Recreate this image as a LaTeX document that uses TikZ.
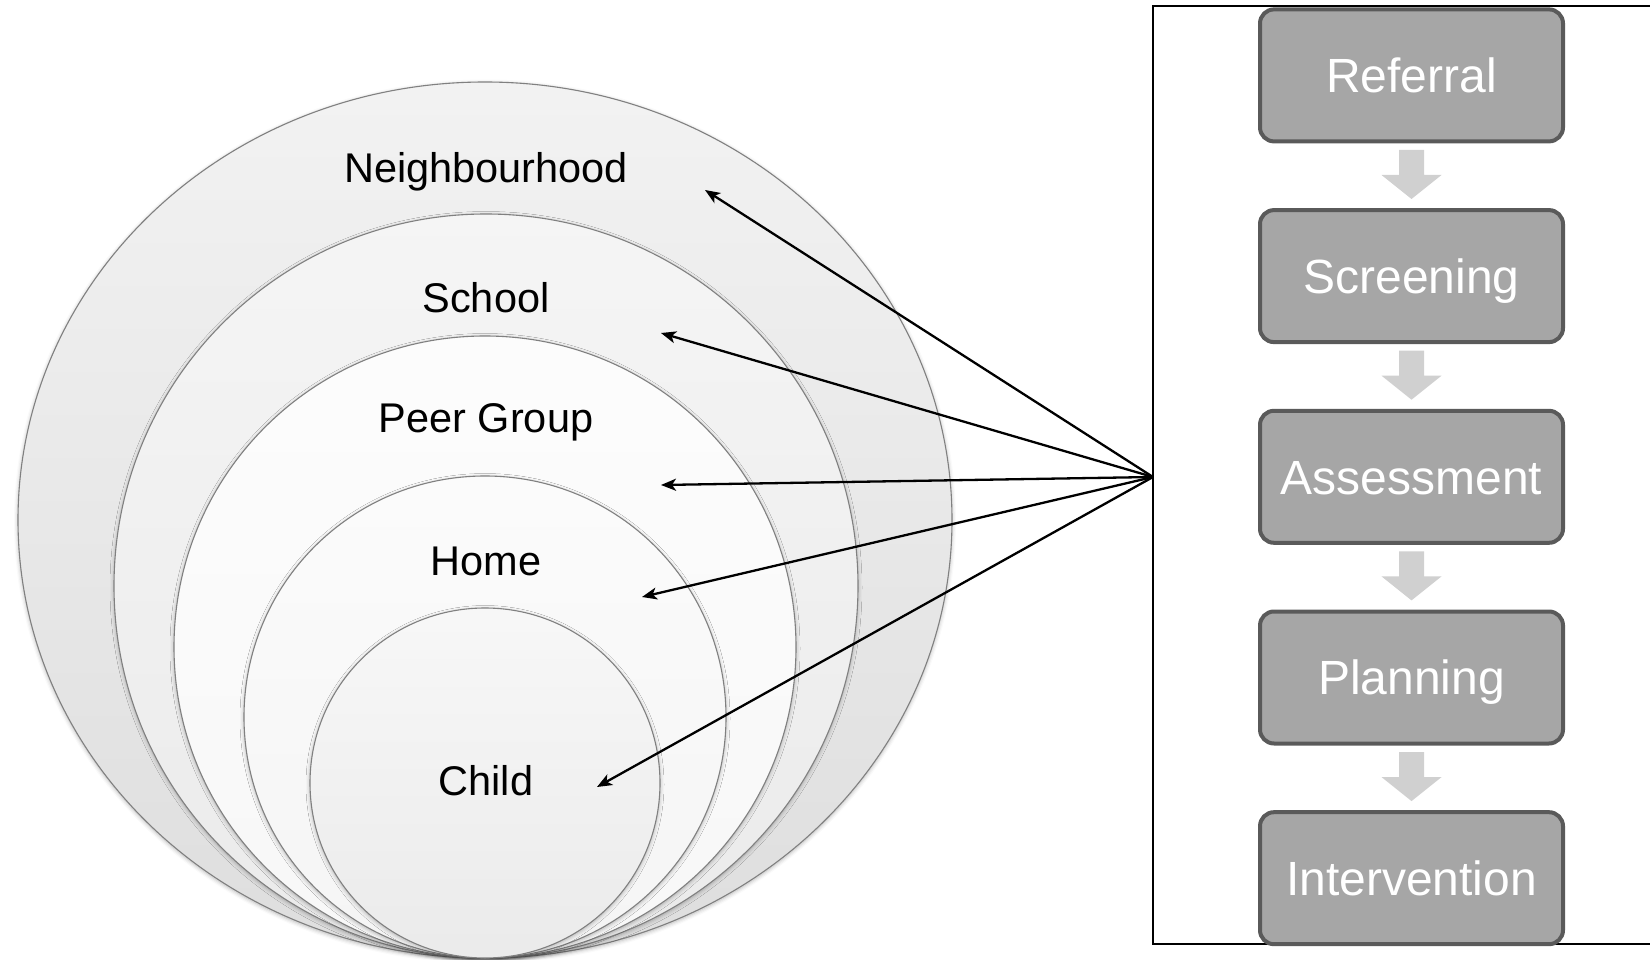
\documentclass[tikz,border=0pt]{standalone}
\usepackage{fontspec}
\setmainfont{Liberation Sans}
\usetikzlibrary{shapes.geometric,arrows.meta,calc,shadows.blur}

\definecolor{ringline}{HTML}{808080}
\definecolor{boxfill}{HTML}{A6A6A6}
\definecolor{boxline}{HTML}{5A5A5A}
\definecolor{arrowgray}{HTML}{D0D0D0}

\begin{document}
\begin{tikzpicture}[x=1pt,y=-1pt,
  ringbase/.style={draw=ringline, line width=1.1pt, inner sep=0pt, outer sep=0pt,
    blur shadow={shadow xshift=0pt, shadow yshift=-1.5pt,
                 shadow blur radius=4pt, shadow opacity=30}},
  ringlabel/.style={font=\fontsize{41.5}{48}\selectfont,
    text height=29.7pt, text depth=0pt, inner sep=0pt},
  stagebox/.style={draw=boxline, fill=boxfill, line width=4pt,
    rounded corners=14pt, minimum width=303pt, minimum height=132pt,
    inner sep=0pt, outer sep=0pt, text=white,
    font=\fontsize{48}{56}\selectfont, text height=34.4pt, text depth=0pt},
  conn/.style={line width=2.3pt, -{Stealth[length=15pt,width=12pt,inset=4pt]}}
]
\useasboundingbox (0,0) rectangle (1650,960);
\clip (0,0) rectangle (1650,960);

% nested rings, largest first
\node[ringbase, ellipse, minimum width=934pt, minimum height=876pt,
      top color=white!95!black, bottom color=white!87!black] (hood) at (485,520) {};
\node[ringbase, circle, minimum size=744pt,
      top color=white!96!black, bottom color=white!92!black] (school) at (486,586) {};
\node[ringbase, circle, minimum size=622pt,
      top color=white!99!black, bottom color=white!97!black] (peer) at (485,647) {};
\node[ringbase, circle, minimum size=482pt,
      top color=white!98.5!black, bottom color=white!96!black] (home) at (485,717) {};
\node[ringbase, circle, minimum size=350pt,
      top color=white!97!black, bottom color=white!92!black] (child) at (485,783) {};

% ring labels
\node[ringlabel] (lhood)   at (486,168) {Neighbourhood};
\node[ringlabel] (lschool) at (486,298) {School};
\node[ringlabel] (lpeer)   at (486,418) {Peer Group};
\node[ringlabel] (lhome)   at (486,561) {Home};
\node[ringlabel] (lchild)  at (486,781) {Child};

% frame around the process column (open on the right)
\draw[line width=2.6pt] (1700,6) -- (1153,6) -- (1153,944) -- (1700,944);
\coordinate (hub) at (1153,477);

% process stages
\node[stagebox] (b1) at (1411.5,75.4)  {Referral};
\node[stagebox] (b2) at (1411.5,276.1) {Screening};
\node[stagebox] (b3) at (1411.5,476.8) {Assessment};
\node[stagebox] (b4) at (1411.5,677.5) {Planning};
\node[stagebox] (b5) at (1411.5,878.2) {Intervention};

% block arrows between stages
\foreach \a in {b1,b2,b3,b4} {
  \fill[arrowgray]
    ($(\a.south)+(-12.5,8.6)$) -- ($(\a.south)+(12.5,8.6)$) --
    ($(\a.south)+(12.5,33.6)$) -- ($(\a.south)+(30,33.6)$) --
    ($(\a.south)+(0,57.6)$) -- ($(\a.south)+(-30,33.6)$) --
    ($(\a.south)+(-12.5,33.6)$) -- cycle;
}

% pointers from the process to each level
\coordinate (thood)   at (705,190);
\coordinate (tschool) at (661,333);
\coordinate (tpeer)   at (661,485);
\coordinate (thome)   at (642,597);
\coordinate (tchild)  at (597,787);
\foreach \t in {thood,tschool,tpeer,thome,tchild}
  \draw[conn] (hub) -- (\t);
\end{tikzpicture}
\end{document}
